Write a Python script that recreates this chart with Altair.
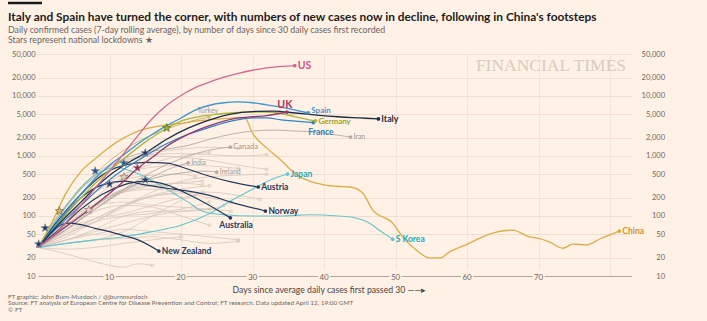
import altair as alt
import pandas as pd

BG = "#FFF1E5"
NAVY = "#24385a"
GREY_LINE = "#d5c7bb"
GREY_LAB = "#a0968f"

# ---------------- highlighted countries ----------------
US_DAYS = [0, 2, 4, 6, 8, 10, 12, 14, 16, 18, 20, 22, 24, 26, 28, 30, 32, 34, 35.9]
US_CASES = [30, 45, 80, 150, 290, 560, 1100, 2200, 4200, 7000, 10200, 13800, 17000, 20500, 23800, 26800, 29300, 31000, 32000]

SPAIN_DAYS = [0, 2, 4, 6, 8, 10, 12, 14, 16, 18, 20, 22, 24, 26, 28, 30, 32, 34, 36, 37.8]
SPAIN_CASES = [30, 60, 120, 230, 420, 700, 1050, 1600, 2300, 3200, 4300, 5800, 7000, 7700, 7950, 7700, 7100, 6500, 5800, 5200]

ITALY_DAYS = [0, 3, 6, 9, 12, 15, 18, 21, 24, 27, 30, 33, 36, 39, 42, 45, 47.6]
ITALY_CASES = [30, 75, 170, 380, 700, 1120, 1900, 2900, 4000, 5000, 5500, 5600, 5200, 4800, 4500, 4300, 4140]

UK_DAYS = [0, 3, 6, 9, 12, 14, 16, 18, 20, 22, 24, 26, 28, 30, 32, 34.8]
UK_CASES = [30, 55, 100, 190, 380, 630, 950, 1450, 2000, 2600, 3200, 3800, 4300, 4500, 4700, 5400]

GERMANY_DAYS = [0, 3, 6, 9, 12, 15, 18, 20, 22, 24, 26, 28, 30, 32, 34, 36, 38.8]
GERMANY_CASES = [30, 80, 200, 450, 900, 1700, 2900, 3800, 4400, 4800, 5100, 5300, 5400, 5400, 5100, 4500, 3830]

FRANCE_DAYS = [0, 3, 6, 9, 12, 15, 18, 21, 24, 27, 30, 32, 34, 36, 38.5]
FRANCE_CASES = [30, 70, 150, 320, 600, 1000, 1600, 2300, 3000, 3800, 4300, 4300, 4000, 3800, 3600]

TURKEY_DAYS = [0, 3, 6, 9, 12, 15, 18, 21, 23.9]
TURKEY_CASES = [30, 100, 280, 650, 1250, 2000, 2800, 3700, 4470]

IRAN_DAYS = [0, 3, 6, 9, 12, 15, 18, 21, 24, 27, 30, 33, 36, 39, 41, 43.7]
IRAN_CASES = [30, 110, 280, 550, 900, 1150, 1300, 1500, 1900, 2300, 2600, 2700, 2600, 2500, 2300, 2070]

CANADA_DAYS = [0, 4, 8, 12, 16, 20, 24, 26.9]
CANADA_CASES = [30, 60, 130, 280, 550, 900, 1250, 1410]

INDIA_DAYS = [0, 4, 8, 12, 16, 19, 21]
INDIA_CASES = [30, 60, 130, 260, 450, 650, 765]

IRELAND_DAYS = [0, 4, 8, 12, 16, 20, 23, 25]
IRELAND_CASES = [30, 70, 150, 280, 420, 520, 560, 540]

JAPAN_DAYS = [0, 4, 8, 12, 16, 20, 24, 27, 30, 33, 34.9]
JAPAN_CASES = [30, 35, 40, 45, 55, 70, 110, 180, 280, 420, 500]

AUSTRIA_DAYS = [0, 3, 6, 9, 12, 15, 18, 21, 24, 27, 30.8]
AUSTRIA_CASES = [30, 90, 230, 480, 700, 780, 760, 600, 460, 370, 304]

NORWAY_DAYS = [0, 3, 6, 9, 12, 15, 18, 21, 24, 27, 31.8]
NORWAY_CASES = [30, 80, 200, 330, 380, 330, 290, 260, 220, 170, 121]

AUSTRALIA_DAYS = [0, 3, 6, 9, 12, 15, 18, 21, 24, 26.9]
AUSTRALIA_CASES = [30, 60, 130, 230, 330, 380, 330, 230, 150, 93]

NZ_DAYS = [0, 2, 4, 6, 8, 10, 12, 14, 16.9]
NZ_CASES = [30, 55, 76, 72, 62, 55, 47, 40, 26]

KOREA_DAYS = [0, 3, 6, 9, 11, 13, 15, 17, 19, 21, 23, 26, 30, 34, 38, 42, 44, 46, 48, 49.6]
KOREA_CASES = [30, 100, 300, 560, 650, 560, 450, 330, 240, 170, 120, 105, 100, 100, 105, 100, 95, 80, 55, 41]

CHINA_DAYS = [0, 2, 4, 6, 8, 10, 12, 14, 16, 18, 20, 22, 24, 26, 28, 29, 30, 32, 34, 36, 38, 40, 42,
              43.6, 45.4, 46.8, 49.6, 51, 52.9, 54.8, 56.2, 57.5, 60.3, 62.2, 64.1, 66.4, 68.7, 69.7,
              71.5, 73.4, 74.8, 76.7, 78.5, 81.3]
CHINA_CASES = [30, 80, 250, 550, 900, 1400, 2000, 2600, 3000, 3300, 3500, 3800, 4000, 4200, 4300, 4200,
               2400, 1350, 850, 500, 380, 330, 310, 304, 242, 126, 76, 45, 27, 20, 20, 25, 35, 45, 54,
               58, 45, 43, 37, 29, 34, 33, 41, 56]

# name, days, cases, line colour, label colour, line width, label font size, label placement
HIGHLIGHT = [
    ("Iran", IRAN_DAYS, IRAN_CASES, "#b3aaa3", GREY_LAB, 0.9, 7, "right_reg"),
    ("Canada", CANADA_DAYS, CANADA_CASES, "#b3aaa3", GREY_LAB, 0.9, 7.5, "right_reg"),
    ("India", INDIA_DAYS, INDIA_CASES, "#b3aaa3", GREY_LAB, 0.9, 7, "right_reg"),
    ("Ireland", IRELAND_DAYS, IRELAND_CASES, "#b3aaa3", GREY_LAB, 0.9, 7, "right_reg"),
    ("Turkey", TURKEY_DAYS, TURKEY_CASES, "#cdb97a", GREY_LAB, 1.0, 7, "above_reg"),
    ("Japan", JAPAN_DAYS, JAPAN_CASES, "#62c6cc", "#22a9b8", 1.1, 8.5, "right"),
    ("S Korea", KOREA_DAYS, KOREA_CASES, "#6cc2c8", "#22a9b8", 1.1, 8.5, "right"),
    ("New Zealand", NZ_DAYS, NZ_CASES, NAVY, NAVY, 1.2, 8.5, "right"),
    ("Australia", AUSTRALIA_DAYS, AUSTRALIA_CASES, NAVY, NAVY, 1.2, 8.5, "below_aus"),
    ("Norway", NORWAY_DAYS, NORWAY_CASES, NAVY, NAVY, 1.2, 8.5, "right"),
    ("Austria", AUSTRIA_DAYS, AUSTRIA_CASES, NAVY, NAVY, 1.2, 8.5, "right"),
    ("China", CHINA_DAYS, CHINA_CASES, "#d8ae4a", "#c9992c", 1.3, 8.5, "right"),
    ("France", FRANCE_DAYS, FRANCE_CASES, "#2f82c6", "#2f82c6", 1.2, 8.5, "below_fra"),
    ("Germany", GERMANY_DAYS, GERMANY_CASES, "#aab63c", "#99a530", 1.3, 8, "right_down"),
    ("Spain", SPAIN_DAYS, SPAIN_CASES, "#3f94cc", "#3f94cc", 1.3, 8, "right_up"),
    ("Italy", ITALY_DAYS, ITALY_CASES, "#1e2c42", "#1e2c42", 1.3, 8.8, "right"),
    ("UK", UK_DAYS, UK_CASES, "#93386b", "#b3305f", 1.3, 10.5, "above"),
    ("US", US_DAYS, US_CASES, "#cf6b93", "#c9538a", 1.3, 10.5, "right"),
]

# ---------------- unlabelled background countries ----------------
G1_DAYS = [0, 4, 8, 12, 16, 20, 24, 28]
G1_CASES = [30, 90, 300, 700, 1100, 1300, 1400, 1350]
G2_DAYS = [0, 4, 8, 12, 16, 20, 24, 28, 32]
G2_CASES = [30, 120, 400, 800, 1050, 1100, 1050, 1000, 1050]
G3_DAYS = [0, 4, 8, 12, 16, 20, 24]
G3_CASES = [30, 70, 200, 450, 750, 1000, 1150]
G4_DAYS = [0, 4, 8, 12, 15, 17]
G4_CASES = [30, 60, 150, 450, 1000, 1500]
G5_DAYS = [0, 4, 8, 12, 16, 20, 24, 28, 32]
G5_CASES = [30, 150, 500, 850, 1000, 950, 850, 700, 600]
G6_DAYS = [0, 4, 8, 12, 16, 20, 24, 28]
G6_CASES = [30, 80, 250, 500, 650, 700, 680, 620]
G7_DAYS = [0, 4, 8, 12, 16, 20, 24, 28, 32]
G7_CASES = [30, 50, 90, 150, 250, 380, 450, 480, 500]
G8_DAYS = [0, 4, 8, 12, 16, 20, 22]
G8_CASES = [30, 90, 250, 400, 480, 500, 450]
G9_DAYS = [0, 4, 8, 12, 16, 18]
G9_CASES = [30, 70, 160, 280, 330, 320]
G10_DAYS = [0, 4, 8, 12, 16, 20, 23]
G10_CASES = [30, 70, 160, 260, 320, 360, 380]
G11_DAYS = [0, 4, 8, 12, 16, 20, 23]
G11_CASES = [30, 60, 140, 250, 320, 350, 330]
G12_DAYS = [0, 4, 8, 12, 16, 20, 24, 27]
G12_CASES = [30, 70, 150, 250, 280, 250, 200, 170]
G13_DAYS = [0, 4, 8, 12, 16, 20, 24, 28, 31]
G13_CASES = [30, 55, 90, 150, 210, 240, 250, 220, 190]
G14_DAYS = [0, 4, 8, 12, 16, 20, 24, 27]
G14_CASES = [30, 80, 150, 170, 150, 140, 130, 120]
G15_DAYS = [0, 4, 8, 12, 16, 20, 24]
G15_CASES = [30, 45, 80, 140, 220, 280, 320]
G16_DAYS = [0, 4, 8, 12, 16, 20, 22]
G16_CASES = [30, 60, 90, 110, 150, 200, 220]
G17_DAYS = [0, 4, 8, 12, 16, 19]
G17_CASES = [30, 50, 80, 150, 220, 240]
G18_DAYS = [0, 4, 8, 12, 16, 20, 24]
G18_CASES = [30, 40, 55, 75, 100, 120, 130]
G19_DAYS = [0, 4, 8, 12, 16, 20, 24, 28]
G19_CASES = [30, 40, 50, 60, 55, 50, 45, 40]
G20_DAYS = [0, 4, 8, 12, 16, 20, 23]
G20_CASES = [30, 35, 40, 55, 100, 180, 250]
G21_DAYS = [0, 3, 6, 9, 12, 14, 16]
G21_CASES = [30, 25, 20, 16, 14, 16, 15]
G22_DAYS = [0, 4, 8, 12, 16, 20, 24]
G22_CASES = [30, 60, 120, 150, 140, 100, 70]
G23_DAYS = [0, 4, 8, 12, 16, 20, 24, 26]
G23_CASES = [30, 40, 60, 100, 120, 120, 130, 150]
G24_DAYS = [0, 4, 8, 12, 16, 20, 24]
G24_CASES = [30, 50, 80, 100, 110, 130, 170]
G25_DAYS = [0, 4, 8, 12, 16, 20, 24, 28]
G25_CASES = [30, 35, 40, 42, 45, 40, 35, 38]
G26_DAYS = [0, 4, 8, 12, 16, 20]
G26_CASES = [30, 28, 30, 35, 40, 45]

GREYS = [
    (G1_DAYS, G1_CASES), (G2_DAYS, G2_CASES), (G3_DAYS, G3_CASES), (G4_DAYS, G4_CASES),
    (G5_DAYS, G5_CASES), (G6_DAYS, G6_CASES), (G7_DAYS, G7_CASES), (G8_DAYS, G8_CASES),
    (G9_DAYS, G9_CASES), (G10_DAYS, G10_CASES), (G11_DAYS, G11_CASES), (G12_DAYS, G12_CASES),
    (G13_DAYS, G13_CASES), (G14_DAYS, G14_CASES), (G15_DAYS, G15_CASES), (G16_DAYS, G16_CASES),
    (G17_DAYS, G17_CASES), (G18_DAYS, G18_CASES), (G19_DAYS, G19_CASES), (G20_DAYS, G20_CASES),
    (G21_DAYS, G21_CASES), (G22_DAYS, G22_CASES), (G23_DAYS, G23_CASES), (G24_DAYS, G24_CASES),
    (G25_DAYS, G25_CASES), (G26_DAYS, G26_CASES),
]

# ---------------- lockdown stars ----------------
STAR_DAYS = [0.1, 1, 3, 7.1, 8, 10, 12, 12, 13.9, 15, 15, 18]
STAR_CASES = [34, 63, 121, 126, 562, 341, 764, 447, 631, 1122, 398, 2930]
STAR_FILL = [NAVY, NAVY, "#d8b873", "#f2d9cf", "#2a4f7e", NAVY, "#2b5f86", "#e8cfc0", "#8a2d55",
             NAVY, NAVY, "#9fae3a"]
STAR_STROKE = ["#8192aa", "#8192aa", "#7a6a3a", "#9a6a7a", "#8192aa", "#8192aa", "#8192aa",
               "#9a7a6a", "#c07a9a", "#8192aa", "#8192aa", "#5a6a20"]

YTICKS = [10, 20, 50, 100, 200, 500, 1000, 2000, 5000, 10000, 20000, 50000]
XTICKS = [10, 20, 30, 40, 50, 60, 70]
XGRID = [10, 20, 30, 40, 50, 60, 70, 80]

TITLE = "Italy and Spain have turned the corner, with numbers of new cases now in decline, following in China's footsteps"
SUB1 = "Daily confirmed cases (7-day rolling average), by number of days since 30 daily cases first recorded"
SUB2 = "Stars represent national lockdowns ★"
XTITLE = "Days since average daily cases first passed 30  ——▸"
FOOT = [
    "FT graphic: John Burn-Murdoch / @jburnmurdoch",
    "Source: FT analysis of European Centre for Disease Prevention and Control; FT research. Data updated April 12, 19:00 GMT",
    "© FT",
]

# ---------------- build tables ----------------
rows = []
for name, d, c, col, lab, w, fs, grp in HIGHLIGHT:
    for dd, cc in zip(d, c):
        rows.append(dict(name=name, day=dd, cases=cc, color=col, w=w))
hl = pd.DataFrame(rows)

ends = pd.DataFrame([
    dict(name=name, day=d[-1], cases=c[-1], color=col, lab=lab, fs=fs, grp=grp)
    for name, d, c, col, lab, w, fs, grp in HIGHLIGHT
])

grows = []
for i, (d, c) in enumerate(GREYS):
    for dd, cc in zip(d, c):
        grows.append(dict(name=f"g{i}", day=dd, cases=cc))
grey = pd.DataFrame(grows)
gend = pd.DataFrame([dict(day=d[-1], cases=c[-1]) for d, c in GREYS])

stars = pd.DataFrame(dict(day=STAR_DAYS, cases=STAR_CASES, fill=STAR_FILL, stroke=STAR_STROKE))
xt = pd.DataFrame(dict(day=XTICKS, cases=[10] * len(XTICKS), lab=[str(v) for v in XTICKS]))
yt = pd.DataFrame(dict(cases=YTICKS))
one = pd.DataFrame(dict(a=[0]))

FONT = "Lato"
xscale = alt.Scale(domain=[0, 83], nice=False, zero=False)
yscale = alt.Scale(type="log", domain=[10, 50000], nice=False)

xaxis = alt.Axis(values=XGRID, labels=False, ticks=False, domain=True, domainColor="#9f9791",
                 domainWidth=0.8, grid=True, gridColor="#f0dfd2", gridWidth=0.8,
                 title=XTITLE, titleFont=FONT, titleFontSize=8.7, titleFontWeight="normal",
                 titleColor="#4a4542", titleX=291, titleY=13, titleAlign="center",
                 titleBaseline="middle")
yaxis = alt.Axis(values=YTICKS, format=",", labelFont=FONT, labelFontSize=7.5, labelColor="#6e6762",
                 domain=False, ticks=False, grid=True, gridColor="#ead9cb", gridWidth=0.8,
                 labelPadding=3, title=None)
yaxis_r = alt.Axis(values=YTICKS, format=",", orient="right", labelFont=FONT, labelFontSize=7.5,
                   labelColor="#6e6762", domain=False, ticks=False, grid=False, labelAlign="right",
                   labelPadding=33, title=None)

X = alt.X("day:Q", scale=xscale, axis=xaxis)
Y = alt.Y("cases:Q", scale=yscale, axis=yaxis)

grey_lines = alt.Chart(grey).mark_line(interpolate="monotone", color=GREY_LINE, strokeWidth=0.8).encode(
    x=X, y=Y, detail="name:N", order="day:Q")
grey_dots = alt.Chart(gend).mark_point(shape="square", size=6, color="#c9b9ad", strokeWidth=0.7,
                                       filled=False).encode(x=X, y=Y)

hl_lines = alt.Chart(hl).mark_line(interpolate="monotone").encode(
    x=X, y=Y, detail="name:N", order="day:Q",
    color=alt.Color("color:N", scale=None),
    strokeWidth=alt.StrokeWidth("w:Q", scale=None))

end_dots = alt.Chart(ends).mark_circle(size=14, opacity=1).encode(
    x=X, y=Y, color=alt.Color("color:N", scale=None))

star_layer = alt.Chart(stars).mark_point(
    shape="M0,-1L0.235,-0.324L0.951,-0.309L0.38,0.124L0.588,0.809L0,0.4L-0.588,0.809L-0.38,0.124L-0.951,-0.309L-0.235,-0.324Z",
    size=75, filled=True, opacity=1, strokeWidth=0.7).encode(
    x=X, y=Y, fill=alt.Fill("fill:N", scale=None), stroke=alt.Stroke("stroke:N", scale=None))


def labels(grp, align, dx, dy, weight):
    return alt.Chart(ends).transform_filter(alt.datum.grp == grp).mark_text(
        align=align, baseline="middle", dx=dx, dy=dy, font=FONT, fontWeight=weight).encode(
        x=X, y=Y, text="name:N", color=alt.Color("lab:N", scale=None),
        size=alt.Size("fs:Q", scale=None))


lab_layers = [
    labels("right", "left", 3, 0, "bold"),
    labels("right_up", "left", 3, -1.5, "bold"),
    labels("right_down", "left", 3, 1.5, "bold"),
    labels("right_reg", "left", 3, 0, "normal"),
    labels("above", "center", -2, -7, "bold"),
    labels("above_reg", "center", -1, -6, "normal"),
    labels("below_aus", "left", -11, 7, "bold"),
    labels("below_fra", "left", -5, 9, "bold"),
]

xbg = alt.Chart(xt).mark_square(size=150, color=BG, opacity=1).encode(x=X, y=Y)
xlab = alt.Chart(xt).mark_text(font=FONT, fontSize=8, color="#6e6762", baseline="middle", dy=2).encode(
    x=X, y=Y, text="lab:N")

watermark = alt.Chart(one).mark_text(
    text="FINANCIAL TIMES", font="Liberation Serif", fontSize=17.5, color="#d9cbc0", align="center",
    baseline="middle").encode(x=alt.value(513), y=alt.value(12))

# header and footer texts (annotations placed in the padding around the plot)
HEAD = [(TITLE, 11.9, "bold", "#1e1c1b", -37), (SUB1, 8.8, "normal", "#6b635e", -24),
        (SUB2, 8.8, "normal", "#6b635e", -14)]
head_layers = [
    alt.Chart(one).mark_text(text=t, font=FONT, fontSize=fs, fontWeight=fw, color=col, align="left",
                             baseline="middle").encode(x=alt.value(-30), y=alt.value(yy))
    for t, fs, fw, col, yy in HEAD
]

foot_layers = [
    alt.Chart(one).mark_text(text=t, font=FONT, fontSize=6.4, color="#6e6762", align="left",
                             baseline="middle").encode(x=alt.value(-30), y=alt.value(242.5 + 6.6 * i))
    for i, t in enumerate(FOOT)
]

topbar = alt.Chart(one).mark_rule(color="#1a1a1a", strokeWidth=2.5).encode(
    x=alt.value(-30), x2=alt.value(4), y=alt.value(-51))

main = alt.layer(grey_lines, grey_dots, hl_lines, end_dots, star_layer, xbg, xlab, *lab_layers,
                 watermark, topbar, *head_layers, *foot_layers)

right = alt.Chart(yt).mark_point(opacity=0).encode(
    y=alt.Y("cases:Q", scale=yscale, axis=yaxis_r))

chart = alt.layer(main, right).resolve_scale(y="independent").properties(
    width=593.5, height=222,
    padding={"left": 38, "top": 54, "right": 75, "bottom": 45},
    autosize=alt.AutoSizeParams(type="none"),
    background=BG,
).configure_view(stroke=None)

chart.save("out.html", embed_options={"renderer": "svg", "actions": False})
